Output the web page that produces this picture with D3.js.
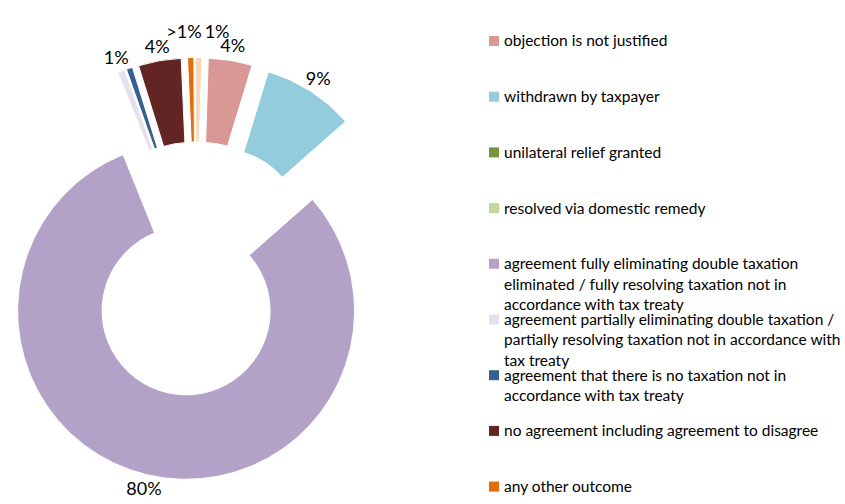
<!DOCTYPE html>
<html>
<head>
<meta charset="utf-8">
<script src="https://cdn.jsdelivr.net/npm/d3@7"></script>
<style>
  body { margin: 0; background: #fff; }
  text { font-family: Lato, "Liberation Sans", sans-serif; fill: #000; }
</style>
</head>
<body>
<div id="chart"></div>
<script>
// MAP case outcomes (share of closed cases, %)
const categories = [
  'objection is not justified',
  'withdrawn by taxpayer',
  'unilateral relief granted',
  'resolved via domestic remedy',
  'agreement fully eliminating double taxation eliminated / fully resolving taxation not in accordance with tax treaty',
  'agreement partially eliminating double taxation / partially resolving taxation not in accordance with tax treaty',
  'agreement that there is no taxation not in accordance with tax treaty',
  'no agreement including agreement to disagree',
  'any other outcome',
  'tenth outcome'
];
const shares = [4.2, 8.8, 0, 0, 80.4, 0.7, 0.6, 4.1, 0.6, 0.6];
const shareLabels = ['4%', '9%', '', '', '80%', '1%', '', '4%', '>1%', '1%'];
const colors = ['#d99795', '#93cddd', '#77933c', '#c3d69b', '#b3a2c7',
                '#e6e0ec', '#376092', '#632523', '#e46c0a', '#fcd5b5'];

// legend text as wrapped in the original (the tenth entry falls below the frame)
const legendLines = [
  ['objection is not justified'],
  ['withdrawn by taxpayer'],
  ['unilateral relief granted'],
  ['resolved via domestic remedy'],
  ['agreement fully eliminating double taxation', 'eliminated / fully resolving taxation not in', 'accordance with tax treaty'],
  ['agreement partially eliminating double taxation /', 'partially resolving taxation not in accordance with', 'tax treaty'],
  ['agreement that there is no taxation not in', 'accordance with tax treaty'],
  ['no agreement including agreement to disagree'],
  ['any other outcome']
];

const width = 845, height = 504;
const cx = 196, cy = 269;
const outerR = 168.5, innerR = 84;
const explode = 43;
const firstSliceDeg = 1.8;

const data = categories.map((c, i) => ({
  name: c, value: shares[i], label: shareLabels[i], color: colors[i]
}));

const svg = d3.select('#chart')
  .append('svg')
  .attr('width', width)
  .attr('height', height);

const a0 = firstSliceDeg * Math.PI / 180;
const pie = d3.pie()
  .sort(null)
  .value(d => d.value)
  .startAngle(a0)
  .endAngle(a0 + 2 * Math.PI);

const arc = d3.arc()
  .innerRadius(innerR)
  .outerRadius(outerR);

// push a slice out along its bisector
function shift(d, dist) {
  const a = (d.startAngle + d.endAngle) / 2;
  return [dist * Math.sin(a), -dist * Math.cos(a)];
}

const arcs = pie(data).filter(d => d.value > 0);

const g = svg.append('g')
  .attr('transform', `translate(${cx},${cy})`);

g.selectAll('path.slice')
  .data(arcs)
  .enter()
  .append('path')
  .attr('class', 'slice')
  .attr('transform', d => `translate(${shift(d, explode)})`)
  .attr('d', arc)
  .attr('fill', d => d.data.color)
  .attr('stroke', '#fff')
  .attr('stroke-width', 1);

// data labels
const labelData = arcs.filter(d => d.data.label).map(d => ({ d: d, r: 183 }));

const labels = g.selectAll('text.pct')
  .data(labelData)
  .enter()
  .append('text')
  .attr('class', 'pct')
  .attr('text-anchor', 'middle')
  .attr('dy', '0.35em')
  .style('font-size', '18px')
  .text(l => l.d.data.label);

labels.each(function (l) {
  l.w = this.getComputedTextLength();
  l.h = 11;
});

function place(l) {
  const p = shift(l.d, explode + l.r);
  l.x = p[0];
  l.y = p[1];
}

function overlap(a, b) {
  const ox = (a.w + b.w) / 2 + 3 - Math.abs(a.x - b.x);
  const oy = (a.h + b.h) / 2 - Math.abs(a.y - b.y);
  return ox > 0 && oy > 0 ? ox : 0;
}

labelData.forEach(place);

// thin slices whose labels collide get pushed a bit further out
labelData.forEach(a => {
  if (a.d.data.value < 1 && labelData.some(b => b !== a && overlap(a, b))) a.r = 194;
});
labelData.forEach(place);

// then spread what still collides sideways (the later label gives way more)
for (let iter = 0; iter < 60; iter++) {
  for (let i = 0; i < labelData.length; i++) {
    for (let j = i + 1; j < labelData.length; j++) {
      const a = labelData[i], b = labelData[j];
      const ox = overlap(a, b);
      if (ox > 0) {
        const s = a.x < b.x ? -1 : 1;
        a.x += s * ox * 0.25;
        b.x -= s * ox * 0.75;
      }
    }
  }
}

labels
  .attr('x', l => l.x)
  .attr('y', l => l.y);

// legend
const legendX = 489, legendY = 41, legendStep = 55.7, lineH = 20.5;

const legend = svg.append('g')
  .selectAll('g.item')
  .data(legendLines)
  .enter()
  .append('g')
  .attr('class', 'item')
  .attr('transform', (d, i) => `translate(${legendX},${legendY + i * legendStep})`);

legend.append('rect')
  .attr('x', 0)
  .attr('y', -5)
  .attr('width', 10)
  .attr('height', 10)
  .attr('fill', (d, i) => colors[i]);

legend.append('text')
  .attr('x', 15)
  .attr('y', 0)
  .style('font-size', '15.5px')
  .selectAll('tspan')
  .data(d => d)
  .enter()
  .append('tspan')
  .attr('x', 15)
  .attr('dy', (d, i) => i === 0 ? '0.35em' : lineH)
  .text(d => d);
</script>
</body>
</html>
